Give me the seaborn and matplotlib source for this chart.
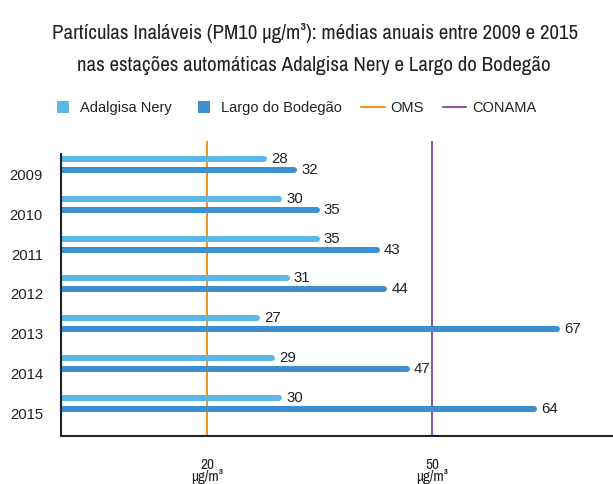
import matplotlib
matplotlib.use("Agg")
import matplotlib.pyplot as plt
import matplotlib.transforms as mtransforms
from matplotlib import font_manager as fm
from matplotlib.lines import Line2D
import seaborn as sns
import pandas as pd

years = ["2009", "2010", "2011", "2012", "2013", "2014", "2015"]
adalgisa = [28, 30, 35, 31, 27, 29, 30]
largo = [32, 35, 43, 44, 67, 47, 64]
series_names = ["Adalgisa Nery", "Largo do Bodegão"]
oms_value = 20
conama_value = 50
x_ticks = [20, 50]
x_tick_labels = ["20\nμg/m³", "50\nμg/m³"]
title_lines = ["Partículas Inaláveis (PM10 μg/m³): médias anuais entre 2009 e 2015",
               "nas estações automáticas Adalgisa Nery e Largo do Bodegão"]

c_light = "#5cb8e9"
c_dark = "#3c8fd0"
c_oms = "#f7941d"
c_conama = "#8e5aad"
txt = "#222222"

df = pd.DataFrame({
    "year": years * 2,
    "value": adalgisa + largo,
    "station": [series_names[0]] * len(years) + [series_names[1]] * len(years),
})

sns.set_theme(style="white")
plt.rcParams["font.family"] = ["Liberation Sans", "DejaVu Sans"]

# look for a condensed face if one is installed
narrow_family, narrow_stretch = None, "normal"
for f in fm.fontManager.ttflist:
    nm = f.name.lower()
    if ("narrow" in nm or "condensed" in nm) and f.style == "normal":
        narrow_family, narrow_stretch = f.name, f.stretch
        break
    if str(f.stretch) in ("condensed", "semi-condensed", "extra-condensed") and f.style == "normal" \
            and f.weight in (400, "normal", "regular"):
        narrow_family, narrow_stretch = f.name, f.stretch
title_family = [narrow_family, "Liberation Sans", "DejaVu Sans"] if narrow_family else ["Liberation Sans", "DejaVu Sans"]

fig = plt.figure(figsize=(6.13, 4.84), dpi=100)
ax = fig.add_axes([61 / 613, 1 - 436 / 484, 1 - 61 / 613, (436 - 141) / 484])

sns.barplot(data=df, y="year", x="value", hue="station", orient="h",
            palette=[c_light, c_dark], width=0.55, legend=False, ax=ax,
            order=years, hue_order=series_names, saturation=1)

px_per_unit = 7.5
cap = 3 / px_per_unit
for cont in ax.containers:
    for p in cont.patches:
        v = p.get_width()
        yc = p.get_y() + p.get_height() / 2
        col = p.get_facecolor()
        p.set_y(yc)
        p.set_height(0)
        p.set_x(cap)
        p.set_width(v - 2 * cap)
        p.set_edgecolor(col)
        p.set_linewidth(6 * 72 / 100)
        p.set_joinstyle("round")
        p.set_capstyle("round")
        ax.annotate(f"{v:.0f}", xy=(v, yc), xytext=(4, 0), textcoords="offset pixels",
                    ha="left", va="center", fontsize=10.8, color=txt)

ax.axvline(oms_value, color=c_oms, lw=1.5, zorder=0.5)
ax.axvline(conama_value, color=c_conama, lw=1.5, zorder=0.5)

ax.set_xlim((61 - 57.3) / px_per_unit, (613 - 57.3) / px_per_unit)
ax.set_ylim(6.82, -0.59)

ax.set_xticks(x_ticks)
ax.set_xticklabels(x_tick_labels, fontsize=11, color=txt, linespacing=0.78,
                   family=title_family, fontstretch=narrow_stretch)
ax.tick_params(axis="x", length=0, pad=15.5)
ax.tick_params(axis="y", length=0, pad=13, labelsize=10.7, labelcolor=txt)
offset = mtransforms.ScaledTranslation(0, -10 / 100, fig.dpi_scale_trans)
for lab in ax.get_yticklabels():
    lab.set_transform(lab.get_transform() + offset)

ax.set_xlabel("")
ax.set_ylabel("")
for s in ["top", "right"]:
    ax.spines[s].set_visible(False)
for s in ["left", "bottom"]:
    ax.spines[s].set_color("#222222")
    ax.spines[s].set_linewidth(1.5)
ax.spines["left"].set_bounds(6.82, -0.26)

# title: two centred lines, size fitted to the reference width
t1 = fig.text(315 / 613, 1 - 39 / 484, title_lines[0], ha="center", va="baseline",
              fontsize=20, color=txt, family=title_family, fontstretch=narrow_stretch)
t2 = fig.text(314 / 613, 1 - 71 / 484, title_lines[1], ha="center", va="baseline",
              fontsize=20, color=txt, family=title_family, fontstretch=narrow_stretch)
r = fig.canvas.get_renderer()
w = t1.get_window_extent(r).width
fs = min(22, 20 * 526 / w)
t1.set_fontsize(fs)
t2.set_fontsize(fs)

sq = dict(marker="s", markersize=12 * 72 / 100, linestyle="none", markeredgewidth=0)
handles = [Line2D([], [], color=c_light, **sq),
           Line2D([], [], color=c_dark, **sq),
           Line2D([], [], color=c_oms, lw=1.5),
           Line2D([], [], color=c_conama, lw=1.5)]
labels = series_names + ["OMS", "CONAMA"]
fig.legend(handles, labels, loc="center", bbox_to_anchor=(294 / 613, 1 - 108 / 484),
           ncol=4, frameon=False, fontsize=10.5, handlelength=1.58,
           handletextpad=0.38, columnspacing=1.37, labelcolor=txt,
           borderpad=0, borderaxespad=0)

fig.savefig("out.png", dpi=100)
